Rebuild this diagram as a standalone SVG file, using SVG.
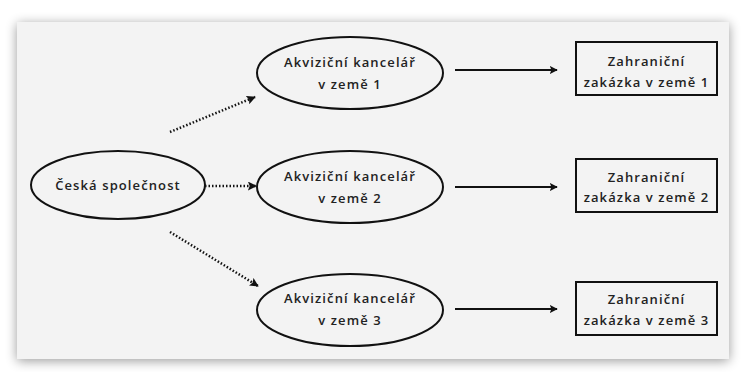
<svg xmlns="http://www.w3.org/2000/svg" width="741" height="372" viewBox="0 0 741 372">
<defs>
<filter id="sh" x="-5%" y="-8%" width="110%" height="116%">
<feGaussianBlur in="SourceAlpha" stdDeviation="6"/>
<feOffset dx="0" dy="2"/>
<feComponentTransfer><feFuncA type="linear" slope="0.4"/></feComponentTransfer>
<feMerge><feMergeNode/><feMergeNode in="SourceGraphic"/></feMerge>
</filter>
<marker id="ah" viewBox="0 0 10 10" refX="9" refY="5" markerWidth="8" markerHeight="8" markerUnits="userSpaceOnUse" orient="auto">
<path d="M0,0 L10,5 L0,10 L2,5 Z" fill="#111"/>
</marker>
<marker id="ahd" viewBox="0 0 10 10" refX="9" refY="5" markerWidth="9" markerHeight="9" markerUnits="userSpaceOnUse" orient="auto">
<path d="M0,0 L10,5 L0,10 L2,5 Z" fill="#111"/>
</marker>
</defs>
<style>
.n{fill:#f3f3f3;stroke:#111;stroke-width:2}
.t{font-family:"Open Sans","Noto Sans","DejaVu Sans",sans-serif;font-size:13px;font-weight:600;letter-spacing:1.1px;fill:#222;text-anchor:middle}
.s{stroke:#111;stroke-width:2;fill:none;marker-end:url(#ah)}
.d{stroke:#111;stroke-width:2.5;fill:none;stroke-dasharray:1.5 2;marker-end:url(#ahd)}
</style>
<rect width="741" height="372" fill="#ffffff"/>
<rect x="17" y="22" width="712" height="337" fill="#f3f3f3" filter="url(#sh)"/>
<g id="ceska">
<ellipse class="n" cx="118" cy="185" rx="87" ry="34"/>
<text class="t" x="118" y="190">Česká společnost</text>
</g>
<g id="ak1">
<ellipse class="n" cx="350" cy="73" rx="93" ry="36"/>
<text class="t" x="350" y="67">Akviziční kancelář</text>
<text class="t" x="350" y="89">v země 1</text>
</g>
<g id="ak2">
<ellipse class="n" cx="350" cy="187" rx="93" ry="36"/>
<text class="t" x="350" y="181">Akviziční kancelář</text>
<text class="t" x="350" y="203">v země 2</text>
</g>
<g id="ak3">
<ellipse class="n" cx="350" cy="310" rx="93" ry="36"/>
<text class="t" x="350" y="303">Akviziční kancelář</text>
<text class="t" x="350" y="325">v země 3</text>
</g>
<g id="za1">
<rect class="n" x="576" y="42" width="141" height="53"/>
<text class="t" x="646.5" y="66">Zahraniční</text>
<text class="t" x="646.5" y="87">zakázka v země 1</text>
</g>
<g id="za2">
<rect class="n" x="576" y="159" width="141" height="53"/>
<text class="t" x="646.5" y="182">Zahraniční</text>
<text class="t" x="646.5" y="202">zakázka v země 2</text>
</g>
<g id="za3">
<rect class="n" x="576" y="282" width="141" height="53"/>
<text class="t" x="646.5" y="304">Zahraniční</text>
<text class="t" x="646.5" y="325">zakázka v země 3</text>
</g>
<g id="connectors">
<line class="d" x1="170" y1="132" x2="255" y2="97"/>
<line class="d" x1="205" y1="186" x2="256" y2="186"/>
<line class="d" x1="170" y1="232" x2="258" y2="286"/>
<line class="s" x1="455" y1="70" x2="557" y2="70"/>
<line class="s" x1="455" y1="187" x2="557" y2="187"/>
<line class="s" x1="455" y1="309" x2="557" y2="309"/>
</g>
</svg>
